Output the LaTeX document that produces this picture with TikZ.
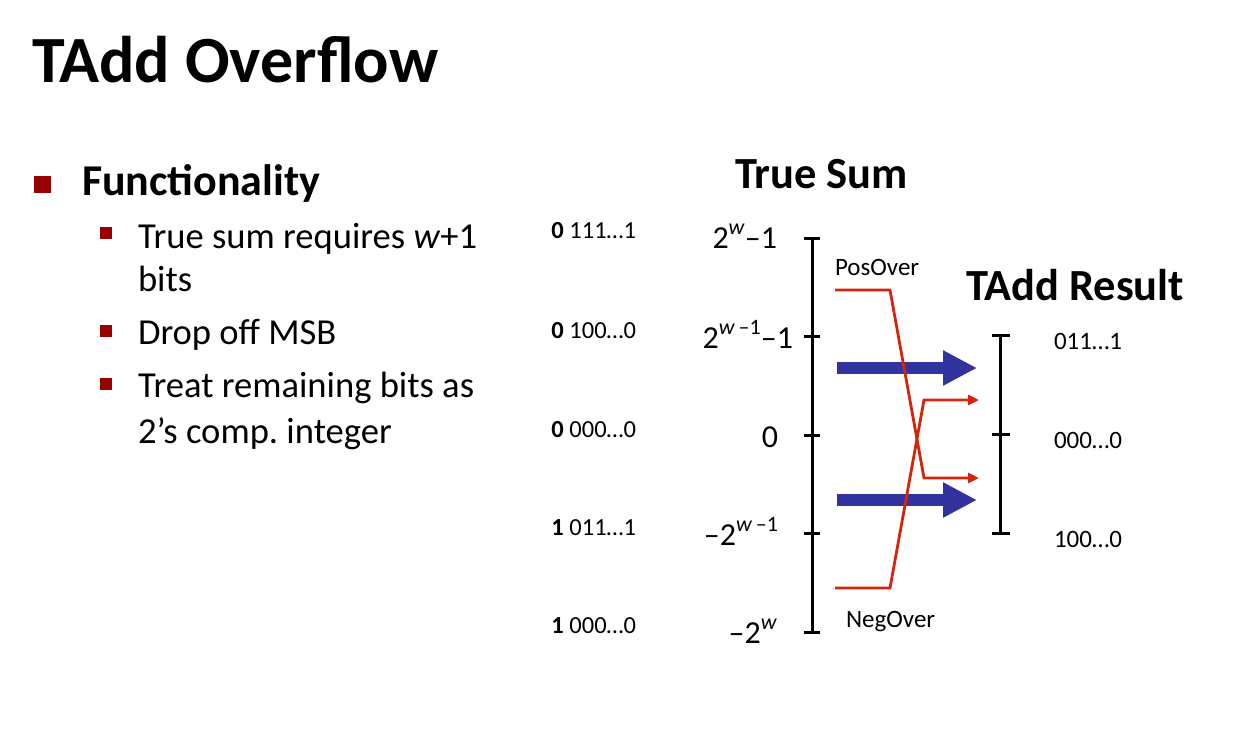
\documentclass[tikz,border=0pt]{standalone}
\usepackage{fontspec}
\setmainfont{Carlito}
\usetikzlibrary{arrows.meta}
\frenchspacing
\definecolor{bulletred}{RGB}{153,0,0}
\definecolor{ovred}{RGB}{212,36,12}
\definecolor{arrblue}{RGB}{51,51,160}
\newcommand{\fs}[1]{\fontsize{#1}{#1}\selectfont}
\newcommand{\supw}[1]{\raisebox{0.42em}{\fs{22}#1}}
\tikzset{
  txt/.style={inner sep=0pt, outer sep=0pt},
  axis/.style={line width=3pt},
  tick/.style={line width=3pt},
  ovarrow/.style={draw=ovred, line width=2.8pt, -{Triangle[length=11pt,width=10pt]}},
  bigarrow/.style={draw=arrblue, line width=12pt, -{Triangle[length=34pt,width=33pt]}},
  bigbullet/.style={fill=bulletred, draw=none},
  smallbullet/.style={fill=bulletred, draw=none},
}
\begin{document}
\begin{tikzpicture}[x=1pt,y=-1pt]
\useasboundingbox (0,0) rectangle (1259,748);
% title
\node[txt, anchor=base west] (title) at (32,82) {\fs{66}\bfseries TAdd Overflow};
% bullets
\fill[bigbullet] (34,176) rectangle (51,193);
\node[txt, anchor=base west] (func) at (82,195) {\fs{44}\bfseries Functionality};
\fill[smallbullet] (100,227) rectangle (112,239);
\node[txt, anchor=base west] (b1a) at (138,248) {\fs{36.6}True sum requires \textit{w}+1};
\node[txt, anchor=base west] (b1b) at (138,291) {\fs{36.6}bits};
\fill[smallbullet] (100,325) rectangle (112,337);
\node[txt, anchor=base west] (b2) at (138,344) {\fs{36.6}Drop off MSB};
\fill[smallbullet] (100,378) rectangle (112,390);
\node[txt, anchor=base west] (b3a) at (138,397) {\fs{36.6}Treat remaining bits as};
\node[txt, anchor=base west] (b3b) at (138,443) {\fs{36.6}2’s comp. integer};
% binary labels
\node[txt, anchor=base east] (bin1) at (636,238) {\fs{24.5}\textbf{0} 111…1};
\node[txt, anchor=base east] (bin2) at (636,338) {\fs{24.5}\textbf{0} 100…0};
\node[txt, anchor=base east] (bin3) at (636,437) {\fs{24.5}\textbf{0} 000…0};
\node[txt, anchor=base east] (bin4) at (636,535) {\fs{24.5}\textbf{1} 011…1};
\node[txt, anchor=base east] (bin5) at (636,633) {\fs{24.5}\textbf{1} 000…0};
% true sum heading
\node[txt, anchor=base west] (ts) at (735,188) {\fs{44.5}\bfseries True Sum};
% main axis
\coordinate (at) at (812,238);
\coordinate (ab) at (812,632);
\draw[axis] (at) -- (ab);
\foreach \y in {238,336,435,533,632} {\draw[tick] (804,\y) -- (820,\y);}
% axis labels
\node[txt, anchor=base east] (l1) at (777,248) {\fs{32}2\supw{\textit{w}}–1};
\node[txt, anchor=base east] (l2) at (793,348) {\fs{32}2\supw{\textit{w}\,–1}–1};
\node[txt, anchor=base east] (l3) at (778,447) {\fs{32}0};
\node[txt, anchor=base east] (l4) at (778,545) {\fs{32}–2\supw{\textit{w}\,–1}};
\node[txt, anchor=base east] (l5) at (777,643) {\fs{32}–2\supw{\textit{w}}};
% overflow labels
\node[txt, anchor=base west] (pos) at (835,275) {\fs{25}PosOver};
\node[txt, anchor=base west] (neg) at (846,627) {\fs{25}NegOver};
% result heading
\node[txt, anchor=base west] (tr) at (966,300) {\fs{44.5}\bfseries TAdd Result};
% right axis
\draw[axis] (1000,335) -- (1000,533);
\foreach \y in {335,434,533} {\draw[tick] (992,\y) -- (1010,\y);}
\node[txt, anchor=base west] (r1) at (1054,349) {\fs{25}011…1};
\node[txt, anchor=base west] (r2) at (1054,448) {\fs{25}000…0};
\node[txt, anchor=base west] (r3) at (1054,547) {\fs{25}100…0};
% blue arrows
\coordinate (ba1s) at (837,368);
\coordinate (ba1e) at (977,368);
\coordinate (ba2s) at (837,500);
\coordinate (ba2e) at (977,500);
\draw[bigarrow] (ba1s) -- (ba1e);
\draw[bigarrow] (ba2s) -- (ba2e);
% overflow lines
\coordinate (p0) at (835,290);
\coordinate (p1) at (890,290);
\coordinate (p2) at (924,478);
\coordinate (p3) at (979,478);
\coordinate (n0) at (835,588);
\coordinate (n1) at (890,588);
\coordinate (n2) at (924,400);
\coordinate (n3) at (979,400);
\draw[ovarrow, line join=miter] (p0) -- (p1) -- (p2) -- (p3);
\draw[ovarrow, line join=miter] (n0) -- (n1) -- (n2) -- (n3);
\end{tikzpicture}
\end{document}
